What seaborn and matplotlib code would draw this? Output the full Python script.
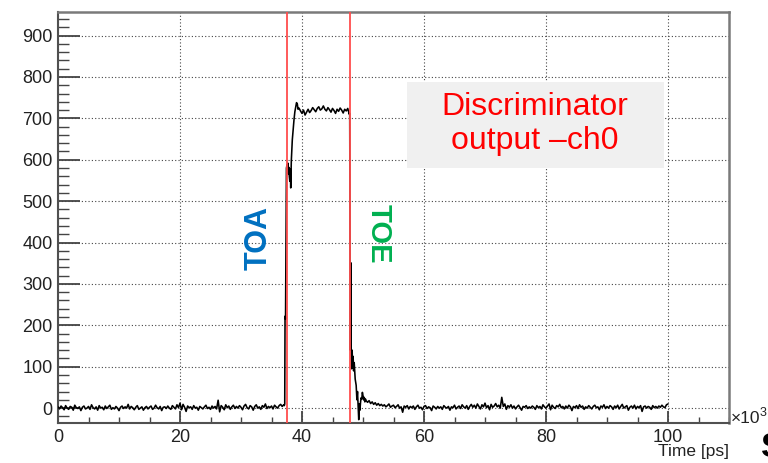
import numpy as np
import pandas as pd
import matplotlib
matplotlib.use("Agg")
import matplotlib.pyplot as plt
import seaborn as sns
from matplotlib.ticker import MultipleLocator
from matplotlib.patches import Rectangle

# ---------------- data (time in units of 10^3 ps) ----------------
pre_start, pre_end = 0.0, 37.0
pre_v = [3, -2, 5, 1, -4, 6, 0, -3, 4, 2, -5, 7, 1, -1, 3, -6, 2, 5, -2, 0,
         4, -3, 8, 1, -2, 3, -5, 6, 0, 2, -4, 5, -1, 3, 7, -3, 1, -2, 4, 0,
         -6, 2, 5, -1, 3, 0, 9, -2, 4, 1, -4, 2, 6, -3, 0, 3, -5, 1, 4, -2,
         2, 5, -3, 0, 7, 1, -2, 4, -6, 2, 3, -1, 5, 0, -3, 6, 2, -2, 8, 1,
         12, -4, 9, 2, -8, 5, 1, 3, -3, 6, 0, 2, -5, 4, 1, -2, 3, 7, -1, 2,
         -3, 5, 0, 4, -2, 19, -9, 6, 2, -4, 8, 1, 5, -3, 3, 7, -1, 4, 0, 6,
         2, -4, 5, 9, 1, -2, 6, 3, -5, 4, 8, 0, 3, -3, 6, 2, 10, -1, 4, 1,
         5, -2, 7, 3, 0, 6, 9, 4, 8]

toa_t = [37.1, 37.17, 37.22, 37.3, 37.45, 37.55, 37.62, 37.68, 37.75, 37.83,
         37.92, 38.0, 38.08, 38.15, 38.25, 38.41, 38.55, 38.69, 38.83, 38.97,
         39.1, 39.23, 39.35]
toa_v = [6, 10, 222, 215, 580, 588, 572, 592, 566, 582,
         560, 548, 578, 532, 598, 648, 672, 697, 716, 728,
         738, 735, 722]

plateau_start, plateau_end = 39.5, 47.75
plateau_v = [725, 718, 712, 720, 708, 715, 722, 714, 719, 726, 721, 716,
             724, 728, 720, 723, 730, 722, 718, 726, 721, 715, 724, 719,
             712, 722, 717, 725, 720, 713, 722, 718, 724, 710]

toe_t = [47.82, 47.92, 48.02, 48.06, 48.14, 48.22, 48.3, 48.38, 48.46, 48.56,
         48.72, 48.88, 49.0, 49.1, 49.2, 49.3, 49.4, 49.5, 49.6, 49.7,
         49.8, 49.9, 50.0, 50.1, 50.2, 50.3, 50.4, 50.5, 50.75, 51.0,
         51.25, 51.5, 51.75, 52.0, 52.25, 52.5, 52.75]
toe_v = [712, 140, 351, 150, 95, 140, 100, 125, 90, 110,
         70, 55, 20, 40, 5, -28, 10, -5, 15, 25,
         22, 38, 30, 20, 26, 15, 22, 18, 14, 18,
         11, 15, 9, 13, 7, 11, 6]

post_start, post_end = 53.0, 100.0
post_v = [9, 5, 8, 3, 6, 10, 2, 5, 7, 1, 4, 8, 0, 3, -10, 5, 2, 6, -2, 4,
          1, 5, -3, 3, 7, 0, 2, -4, 4, 6, -1, 3, 1, -6, 5, 2, -2, 4, 0, 3,
          -3, 6, 2, 0, 4, -5, 3, 1, 7, -2, 2, 5, -1, 8, 3, 0, 6, -3, 4, 9,
          2, 7, 0, 10, 4, -2, 8, 3, 12, 1, 6, -4, 9, 2, 5, 11, 3, 7, 0, 26,
          4, 10, -3, 6, 2, 8, 0, 5, -2, 3, 7, 1, -5, 4, 2, 6, -1, 3, 0, 5,
          2, -3, 6, 1, 4, -2, 8, 3, 0, 5, 10, -4, 7, 2, -1, 6, 3, 9, 1, 4,
          -2, 5, 0, 7, 3, -6, 4, 1, 6, -1, 8, 2, 5, -3, 3, 0, 6, 2, -2, 4,
          7, 1, 3, -4, 5, 2, 8, -1, 4, 0, 6, 3, -3, 5, 1, 7, -2, 4, 9, 0,
          3, 6, -5, 2, 5, 0, 7, -2, 4, 1, 6, -8, 3, 5, 0, 4, 2, -3, 6, 1,
          4, 0, 5, 2, 7, 3, 1, 8, 10]

toa_time = 37.5
toe_time = 47.87
marker_labels = ["TOA", "TOE"]
box_text = "Discriminator\noutput \u2013ch0"
x_label = "Time [ps]"
x_ticks = [0, 20, 40, 60, 80, 100]
y_ticks = [0, 100, 200, 300, 400, 500, 600, 700, 800, 900]

# ---------------- assemble ----------------
pre_t = np.linspace(pre_start, pre_end, len(pre_v))
plateau_t = np.linspace(plateau_start, plateau_end, len(plateau_v))
post_t = np.linspace(post_start, post_end, len(post_v))
t_all = np.concatenate([pre_t, toa_t, plateau_t, toe_t, post_t])
v_all = np.concatenate([pre_v, toa_v, plateau_v, toe_v, post_v])
df = pd.DataFrame({"time": t_all, "amp": v_all})

sns.set_theme(style="white")
plt.rcParams["font.family"] = ["Liberation Sans", "DejaVu Sans"]

fig = plt.figure(figsize=(7.68, 4.63), dpi=100)
fig.patch.set_facecolor("white")
ax = fig.add_axes([58 / 768, 1 - 423 / 463, (729 - 58) / 768, (423 - 12) / 463])

sns.lineplot(data=df, x="time", y="amp", ax=ax, color="black", lw=1.15,
             estimator=None, sort=False, zorder=3)

for tx in (toa_time, toe_time):
    ax.axvline(tx, color="#FF4D4D", lw=1.3, zorder=4)

ax.set_xlim(0, 110)
ax.set_ylim(-36, 957)
ax.set_xticks(x_ticks)
ax.set_yticks(y_ticks)
ax.xaxis.set_minor_locator(MultipleLocator(5))
ax.yaxis.set_minor_locator(MultipleLocator(20))
ax.set_xlabel("")
ax.set_ylabel("")

ax.grid(True, which="major", linestyle=(0, (1, 2)), color="#444444", lw=0.8)
ax.tick_params(axis="y", which="major", direction="in", length=15.5, width=1.3,
               color="#444444", labelsize=13, pad=4, left=True)
ax.tick_params(axis="y", which="minor", direction="in", length=8, width=1.0,
               color="#444444", left=True)
ax.tick_params(axis="x", which="major", direction="in", length=8.5, width=1.3,
               color="#444444", labelsize=13, pad=4, bottom=True)
ax.tick_params(axis="x", which="minor", direction="in", length=4.3, width=1.0,
               color="#444444", bottom=True)
for lab in ax.get_xticklabels() + ax.get_yticklabels():
    lab.set_color("#222222")

for side in ("left", "bottom"):
    ax.spines[side].set_color("#505050")
    ax.spines[side].set_linewidth(1.5)
for side in ("top", "right"):
    ax.spines[side].set_color("#7a7a7a")
    ax.spines[side].set_linewidth(1.8)

# annotation box
ax.add_patch(Rectangle((0.520, 0.620), 0.383, 0.209, transform=ax.transAxes,
                       facecolor="#F0F0F0", edgecolor="none", zorder=1))
ax.text(0.711, 0.727, box_text, transform=ax.transAxes, ha="center", va="center",
        color="#FF0000", fontsize=23, linespacing=1.15, zorder=5)

ax.text(0.2996, 0.45, marker_labels[0], transform=ax.transAxes, rotation=90,
        color="#0070C0", fontsize=22, fontweight="bold", ha="center", va="center",
        zorder=5)
ax.text(0.4776, 0.46, marker_labels[1], transform=ax.transAxes, rotation=-90,
        color="#00B050", fontsize=21, fontweight="bold", ha="center", va="center",
        zorder=5)

fig.text(729 / 768, 1 - 456 / 463, x_label, ha="right", va="baseline",
         fontsize=12.5, color="#222222")
fig.text(731 / 768, 1 - 423 / 463, "\u00d710", ha="left", va="baseline",
         fontsize=12.5, color="#222222")
fig.text(760 / 768, 1 - 416 / 463, "3", ha="left", va="baseline",
         fontsize=9, color="#222222")
fig.text(761 / 768, 1 - 457 / 463, "S", ha="left", va="baseline",
         fontsize=25, fontweight="bold", color="black")

fig.savefig("out.png", dpi=100)
